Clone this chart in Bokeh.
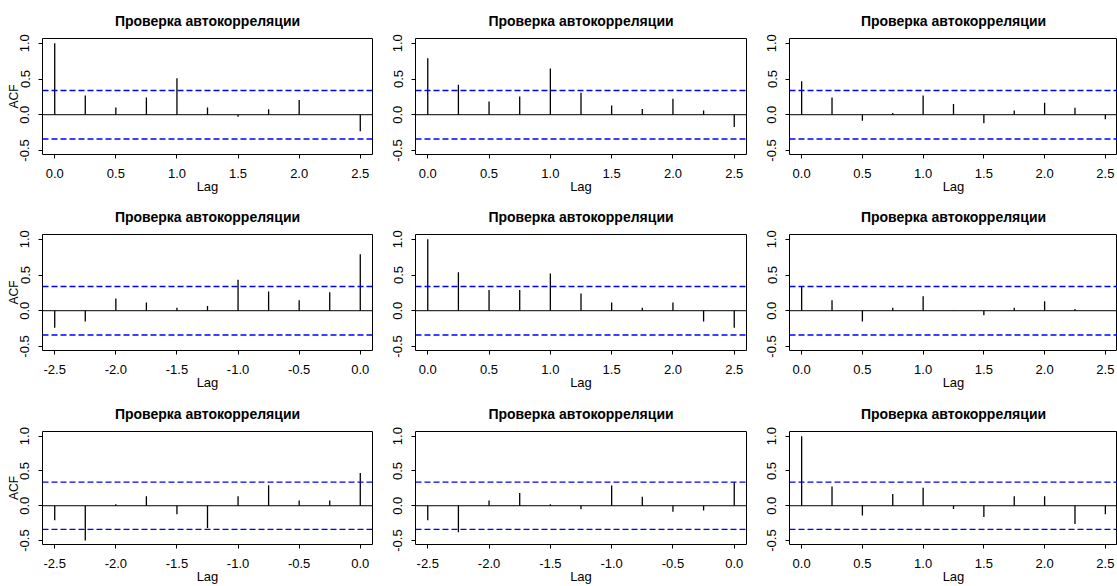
from bokeh.plotting import figure
from bokeh.layouts import gridplot
from bokeh.models import Span, FixedTicker, Range1d, ColumnDataSource
from bokeh.embed import file_html
from bokeh.resources import INLINE

TITLE = "Проверка автокорреляции"
X_LABEL = "Lag"
Y_LABEL = "ACF"

lags_pos = [0.0, 0.25, 0.5, 0.75, 1.0, 1.25, 1.5, 1.75, 2.0, 2.25, 2.5]
lags_neg = [-2.5, -2.25, -2.0, -1.75, -1.5, -1.25, -1.0, -0.75, -0.5, -0.25, 0.0]
x_ticks_pos = [0.0, 0.5, 1.0, 1.5, 2.0, 2.5]
x_ticks_neg = [-2.5, -2.0, -1.5, -1.0, -0.5, 0.0]
y_ticks = [-0.5, 0.0, 0.5, 1.0]
clim = 0.34

# row 1 (positive lags)
acf_11 = [1.0, 0.27, 0.10, 0.24, 0.51, 0.10, -0.03, 0.075, 0.205, 0.0, -0.23]
acf_12 = [0.79, 0.42, 0.186, 0.256, 0.647, 0.307, 0.13, 0.08, 0.223, 0.06, -0.172]
acf_13 = [0.47, 0.24, -0.084, 0.023, 0.27, 0.15, -0.12, 0.06, 0.167, 0.098, -0.065]
# row 2
acf_21 = [-0.24, -0.152, 0.17, 0.115, 0.04, 0.065, 0.433, 0.27, 0.147, 0.258, 0.79]
acf_22 = [1.0, 0.54, 0.29, 0.29, 0.52, 0.24, 0.115, 0.04, 0.115, -0.152, -0.24]
acf_23 = [0.336, 0.147, -0.152, 0.04, 0.203, -0.003, -0.065, 0.04, 0.134, 0.023, 0.0]
# row 3
acf_31 = [-0.21, -0.50, 0.023, 0.136, -0.122, -0.32, 0.136, 0.296, 0.075, 0.075, 0.47]
acf_32 = [-0.21, -0.38, 0.075, 0.183, 0.023, -0.05, 0.29, 0.13, -0.085, -0.07, 0.336]
acf_33 = [1.0, 0.277, -0.14, 0.17, 0.258, -0.047, -0.16, 0.136, 0.136, -0.263, -0.122]

panels = [
    [(lags_pos, acf_11), (lags_pos, acf_12), (lags_pos, acf_13)],
    [(lags_neg, acf_21), (lags_pos, acf_22), (lags_pos, acf_23)],
    [(lags_neg, acf_31), (lags_neg, acf_32), (lags_pos, acf_33)],
]

FONT = "Liberation Sans"
col_widths = [373, 374, 370]
col_right = [1, 1, 0]
row_heights = [196, 197, 193]
row_bottom = [42, 43, 39]
LEFT = 42
TOP = 38
Y_START, Y_END = -0.557, 1.067

rows = []
for r in range(3):
    row = []
    for c in range(3):
        lags, vals = panels[r][c]
        positive = lags[-1] > 0
        x0, x1 = (-0.1, 2.6) if positive else (-2.6, 0.1)
        p = figure(width=col_widths[c], height=row_heights[r],
                   x_range=Range1d(x0, x1), y_range=Range1d(Y_START, Y_END),
                   output_backend="svg", toolbar_location=None,
                   min_border_left=LEFT, min_border_right=col_right[c],
                   min_border_top=TOP, min_border_bottom=row_bottom[r],
                   background_fill_color="white", border_fill_color="white")
        p.title.text = TITLE
        p.title.align = "center"
        p.title.text_font = FONT
        p.title.text_font_size = "14px"
        p.title.text_font_style = "bold"
        p.title.text_color = "black"
        p.title.standoff = 19

        p.grid.visible = False
        p.outline_line_color = "black"
        p.outline_line_width = 1
        p.outline_line_alpha = 1

        for ax in (p.xaxis[0], p.yaxis[0]):
            ax.axis_line_color = None
            ax.major_tick_out = 4
            ax.major_tick_in = 0
            ax.major_tick_line_color = "black"
            ax.minor_tick_line_color = None
            ax.major_label_text_font = FONT
            ax.major_label_text_font_size = "13px"
            ax.major_label_text_color = "black"
            ax.axis_label_text_font = FONT
            ax.axis_label_text_font_style = "normal"
            ax.axis_label_text_color = "black"
        p.xaxis.major_label_standoff = 10
        p.yaxis.major_label_standoff = 9
        xt = x_ticks_pos if positive else x_ticks_neg
        p.xaxis.ticker = FixedTicker(ticks=xt)
        p.yaxis.ticker = FixedTicker(ticks=y_ticks)
        p.xaxis.major_label_overrides = {t: f"{t:.1f}" for t in xt}
        p.yaxis.major_label_overrides = {t: f"{t:.1f}" for t in y_ticks}
        p.yaxis.major_label_orientation = "vertical"

        p.xaxis.axis_label = X_LABEL
        p.xaxis.axis_label_text_font_size = "13px"
        p.xaxis.axis_label_standoff = -2
        if c == 0:
            p.yaxis.axis_label = Y_LABEL
            p.yaxis.axis_label_text_font_size = "12px"
            p.yaxis.axis_label_standoff = -3

        # confidence bounds and zero line
        for loc in (clim, -clim):
            p.add_layout(Span(location=loc, dimension="width", line_color="#0000FF",
                              line_width=1.4, line_dash="6 3"))
        p.add_layout(Span(location=0, dimension="width", line_color="black", line_width=1))

        src = ColumnDataSource(dict(lag=lags, acf=vals, base=[0.0] * len(vals)))
        p.segment(x0="lag", y0="base", x1="lag", y1="acf", source=src,
                  line_color="black", line_width=1.3)
        row.append(p)
    rows.append(row)

grid = gridplot(rows, toolbar_location=None)
open("out.html", "w").write(file_html(grid, INLINE))
